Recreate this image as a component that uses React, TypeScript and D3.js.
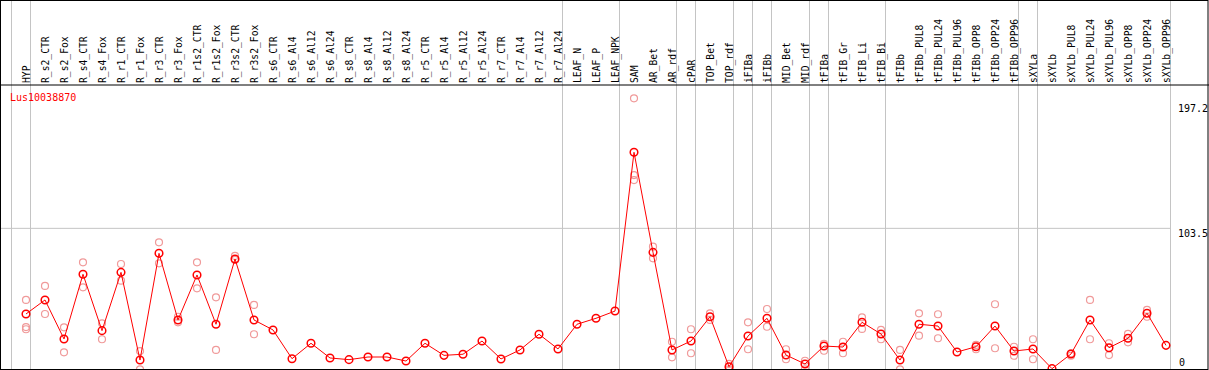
import React from 'react'
import { scalePoint, scaleLinear, line } from 'd3'

const samples = [
  'HYP', 'R_s2_CTR', 'R_s2_Fox', 'R_s4_CTR', 'R_s4_Fox', 'R_r1_CTR', 'R_r1_Fox', 'R_r3_CTR', 'R_r3_Fox',
  'R_r1s2_CTR', 'R_r1s2_Fox', 'R_r3s2_CTR', 'R_r3s2_Fox', 'R_s6_CTR', 'R_s6_Al4', 'R_s6_Al12', 'R_s6_Al24',
  'R_s8_CTR', 'R_s8_Al4', 'R_s8_Al12', 'R_s8_Al24', 'R_r5_CTR', 'R_r5_Al4', 'R_r5_Al12', 'R_r5_Al24',
  'R_r7_CTR', 'R_r7_Al4', 'R_r7_Al12', 'R_r7_Al24', 'LEAF_N', 'LEAF_P', 'LEAF_NPK', 'SAM', 'AR_Bet', 'AR_rdf',
  'cPAR', 'TOP_Bet', 'TOP_rdf', 'iFIBa', 'iFIBb', 'MID_Bet', 'MID_rdf', 'tFIBa', 'tFIB_Gr', 'tFIB_Li', 'tFIB_Bi',
  'tFIBb', 'tFIBb_PUL8', 'tFIBb_PUL24', 'tFIBb_PUL96', 'tFIBb_OPP8', 'tFIBb_OPP24', 'tFIBb_OPP96', 'sXYLa',
  'sXYLb', 'sXYLb_PUL8', 'sXYLb_PUL24', 'sXYLb_PUL96', 'sXYLb_OPP8', 'sXYLb_OPP24', 'sXYLb_OPP96'
]

const means = [
  41.8, 51.9, 23.8, 70.4, 29.8, 71.8, 8.6, 85.5, 37.5, 69.9,
  34.4, 81.4, 37.5, 30.3, 9.6, 20.7, 10.1, 8.9, 10.8, 10.8,
  7.9, 20.7, 12.0, 12.8, 22.3, 9.4, 15.9, 27.2, 16.6, 34.4,
  38.7, 43.9, 158.3, 86.2, 15.9, 22.3, 39.8, 3.8, 25.9, 38.7,
  12.2, 5.8, 18.7, 18.0, 35.8, 27.4, 8.6, 34.4, 33.1, 14.4,
  18.2, 33.1, 15.1, 16.6, 2.4, 13.0, 37.5, 17.5, 24.3, 42.3,
  19.2
]

const replicates: number[][] = [
  [51.9, 32.4, 30.8], [62.0, 41.8], [32.2, 14.2], [79.0, 61.0], [35.1, 23.6], [77.8, 65.8],
  [15.1, 1.9], [93.4, 78.3], [39.8, 35.8], [79.0, 60.3], [53.8, 15.9], [83.6, 80.7], [48.3, 27.2],
  [], [], [], [], [], [], [], [], [], [], [], [], [], [], [], [], [], [], [],
  [197.2, 141.9, 138.3], [90.3, 81.9], [21.8, 10.6], [30.8, 13.5], [42.3, 37.5], [5.8, 1.9],
  [35.8, 16.4], [45.4, 32.6], [16.4, 9.2], [8.1, 1.9], [20.2, 15.3], [21.8, 13.5], [39.4, 31.0],
  [30.3, 23.6], [15.9, 1.9], [42.3, 26.2], [41.6, 24.3], [], [19.5, 16.4], [48.8, 17.1],
  [18.2, 11.7], [23.6, 9.2], [], [13.5, 11.7], [51.9, 23.6], [20.7, 12.2], [27.4, 21.4],
  [44.7, 39.8], []
]

// last sample of each group, a grey separator follows it
const groupEnds = [
  'HYP', 'R_r7_Al24', 'LEAF_NPK', 'AR_rdf', 'cPAR', 'TOP_rdf', 'iFIBa', 'iFIBb',
  'MID_rdf', 'tFIBa', 'tFIB_Bi', 'tFIBb_OPP96', 'sXYLa', 'sXYLb_OPP96'
]

const yTicks = [197.2, 103.5, 0]
const geneId = 'Lus10038870'

const W = 1209
const H = 370
const headerY = 85
const font = '"DejaVu Sans Mono", monospace'

export default function App() {
  const x = scalePoint<string>().domain(samples).range([26, 1166])
  const y = scaleLinear().domain([0, 197.2]).range([372, 98.3])
  const sepOffset = 4.5
  const step = x.step()

  const meanLine = line<number>()
    .x((_, i) => x(samples[i]) as number)
    .y(d => y(d))

  const seps = [(x(samples[0]) as number) - step + sepOffset, ...groupEnds.map(g => (x(g) as number) + sepOffset)]
  const plotRight = (x(samples[samples.length - 1]) as number) + sepOffset

  return (
    <svg width={W} height={H} style={{ position: 'absolute', left: 0, top: 0, background: '#fff' }}>
      <defs>
        <clipPath id='plot'>
          <rect x={1} y={headerY} width={W - 2} height={H - 1 - headerY} />
        </clipPath>
      </defs>
      <rect x={0} y={0} width={W} height={H} fill='#fff' />

      {seps.map((s, i) => (
        <line key={i} x1={s} x2={s} y1={0} y2={H} stroke='#c4c4c4' strokeWidth={1} />
      ))}
      <line x1={1} x2={plotRight} y1={y(103.5)} y2={y(103.5)} stroke='#c4c4c4' strokeWidth={1} />

      {samples.map(s => (
        <text
          key={s}
          transform={`translate(${(x(s) as number) + 3.5}, 83) rotate(-90)`}
          fontFamily={font}
          fontSize={9.7}
          fill='#000'
        >{s}</text>
      ))}

      <text x={10} y={101} fontFamily={font} fontSize={10} fill='#ff0000'>{geneId}</text>

      {yTicks.map(t => (
        <text
          key={t}
          x={t === 0 ? 1179 : 1178}
          y={Math.min(366, Math.max(112, y(t) + 8.5))}
          fontFamily={font}
          fontSize={10}
          fill='#000'
        >{t}</text>
      ))}

      <g clipPath='url(#plot)'>
        {replicates.map((reps, i) => reps.map((r, j) => (
          <circle key={`${i}-${j}`} cx={x(samples[i])} cy={y(r)} r={3.5} fill='none' stroke='#f09a9a' strokeWidth={1.2} />
        )))}
        <path d={meanLine(means) ?? ''} fill='none' stroke='#ff0000' strokeWidth={1} />
        {means.map((m, i) => (
          <circle key={i} cx={x(samples[i])} cy={y(m)} r={3.8} fill='none' stroke='#ff0000' strokeWidth={1.5} />
        ))}
      </g>

      <rect x={0.5} y={0.5} width={W - 1.5} height={H - 1} fill='none' stroke='#000' strokeWidth={1} />
      <line x1={0} x2={W} y1={headerY} y2={headerY} stroke='#000' strokeWidth={1} />
    </svg>
  )
}
